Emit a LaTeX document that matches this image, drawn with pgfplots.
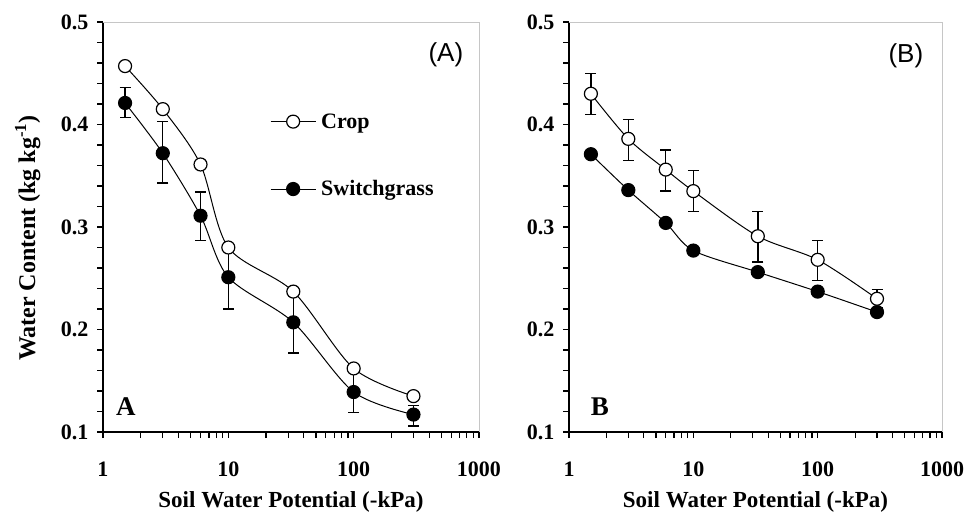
\documentclass[border=0pt]{standalone}
\usepackage{pgfplots}
\pgfplotsset{compat=1.18}
\usepackage{pgfplotstable}
\usepackage{fontspec}
\setmainfont{Liberation Serif}
\newfontfamily\sansf{Liberation Sans}

\pgfplotsset{legend image code/.code={\draw[mark repeat=2,mark phase=2,#1] plot coordinates {(0pt,0pt) (22.5pt,0pt) (45pt,0pt)};}}

\pgfplotstableread{
x ep em y
1.5 0.015 0.014 0.421
3 0.031 0.029 0.372
6 0.023 0.024 0.311
10 0.026 0.031 0.251
33 0.030 0.030 0.207
100 0.020 0.020 0.139
300 0.009 0.011 0.117
}\swA
\pgfplotstableread{
x y
1.5 0.457
3 0.415
6 0.361
10 0.280
33 0.237
100 0.162
300 0.135
}\crA
\pgfplotstableread{
x y ep em
1.5 0.430 0.020 0.020
3 0.386 0.019 0.021
6 0.356 0.019 0.021
10 0.335 0.020 0.020
33 0.291 0.024 0.025
100 0.268 0.019 0.020
300 0.230 0.009 0.009
}\crB
\pgfplotstableread{
x y
1.5 0.371
3 0.336
6 0.304
10 0.277
33 0.256
100 0.237
300 0.217
}\swB

\begin{document}
\begin{tikzpicture}
\useasboundingbox (-103pt,-85pt) rectangle (863pt,432pt);
\begin{axis}[scale only axis, width=376pt, height=410pt,
  xmode=log, xmin=1, xmax=1000, ymin=0.1, ymax=0.5,
  axis x line*=bottom, axis y line*=left,
  axis line style={line width=1.2pt,-},
  xtick={1,10,100,1000}, xticklabels={1,10,100,1000},
  minor xtick={2,3,4,5,6,7,8,9,20,30,40,50,60,70,80,90,200,300,400,500,600,700,800,900},
  ytick={0.1,0.2,0.3,0.4,0.5}, yticklabels={0.1,0.2,0.3,0.4,0.5},
  minor ytick={0.12,0.14,0.16,0.18,0.22,0.24,0.26,0.28,0.32,0.34,0.36,0.38,0.42,0.44,0.46,0.48},
  tick align=outside, major tick length=6pt, minor tick length=6pt,
  tick style={line width=1.2pt, black},
  ticklabel style={font=\fontsize{22}{22}\selectfont\bfseries},
  xticklabel style={yshift=-20pt},
  yticklabel style={xshift=-5pt},
  label style={font=\fontsize{23}{23}\selectfont\bfseries},
  xlabel={Soil Water Potential (-kPa)},
  xlabel style={at={(axis description cs:0.5,-0.17)}, anchor=center},
  clip=false,
  ylabel={Water Content (kg kg\textsuperscript{-1})},
  ylabel style={font=\fontsize{24}{24}\selectfont\bfseries, at={(axis description cs:-0.20,0.473)}, anchor=center},
  legend style={at={(axis description cs:0.444,0.782)}, anchor=north west, draw=none, fill=none,
    inner sep=0pt, row sep=47pt, font=\fontsize{22}{22}\selectfont\bfseries,
    nodes={inner xsep=5pt}},
  legend cell align=left, reverse legend,
]
\addplot[black, line width=1pt, smooth, tension=0.5, mark=*, mark size=6.5pt,
   mark options={fill=black, line width=1.2pt, solid},
   error bars/.cd, y dir=both, y explicit,
   error bar style={line width=1.4pt},
   error mark options={rotate=90, line width=1.4pt, mark size=5.5pt}]
  table[x=x, y=y, y error plus=ep, y error minus=em] {\swA};
\addlegendentry{Switchgrass}
\addplot[black, line width=1pt, smooth, tension=0.5, mark=*, mark size=6.5pt,
   mark options={fill=white, line width=1.2pt, solid}]
  table[x=x, y=y] {\crA};
\addlegendentry{Crop}
\draw[gray!45, line width=0.6pt] (rel axis cs:0,1) -- (rel axis cs:1,1) -- (rel axis cs:1,0);
\node[font=\sansf\fontsize{26}{26}\selectfont] at (rel axis cs:0.912,0.92) {(A)};
\node[font=\fontsize{27}{27}\selectfont\bfseries] at (rel axis cs:0.061,0.061) {A};
\end{axis}
\begin{axis}[scale only axis, width=373pt, height=410pt, at={(466pt,0pt)},
  xmode=log, xmin=1, xmax=1000, ymin=0.1, ymax=0.5,
  axis x line*=bottom, axis y line*=left,
  axis line style={line width=1.2pt,-},
  xtick={1,10,100,1000}, xticklabels={1,10,100,1000},
  minor xtick={2,3,4,5,6,7,8,9,20,30,40,50,60,70,80,90,200,300,400,500,600,700,800,900},
  ytick={0.1,0.2,0.3,0.4,0.5}, yticklabels={0.1,0.2,0.3,0.4,0.5},
  minor ytick={0.12,0.14,0.16,0.18,0.22,0.24,0.26,0.28,0.32,0.34,0.36,0.38,0.42,0.44,0.46,0.48},
  tick align=outside, major tick length=6pt, minor tick length=6pt,
  tick style={line width=1.2pt, black},
  ticklabel style={font=\fontsize{22}{22}\selectfont\bfseries},
  xticklabel style={yshift=-20pt},
  yticklabel style={xshift=-5pt},
  label style={font=\fontsize{23}{23}\selectfont\bfseries},
  xlabel={Soil Water Potential (-kPa)},
  xlabel style={at={(axis description cs:0.5,-0.17)}, anchor=center},
  clip=false,
]
\addplot[black, line width=1pt, smooth, tension=0.5, mark=*, mark size=6.5pt,
   mark options={fill=black, line width=1.2pt, solid}]
  table[x=x, y=y] {\swB};
\addplot[black, line width=1pt, smooth, tension=0.5, mark=*, mark size=6.5pt,
   mark options={fill=white, line width=1.2pt, solid},
   error bars/.cd, y dir=both, y explicit,
   error bar style={line width=1.4pt},
   error mark options={rotate=90, line width=1.4pt, mark size=5.5pt}]
  table[x=x, y=y, y error plus=ep, y error minus=em] {\crB};
\draw[gray!45, line width=0.6pt] (rel axis cs:0,1) -- (rel axis cs:1,1) -- (rel axis cs:1,0);
\node[font=\sansf\fontsize{26}{26}\selectfont] at (rel axis cs:0.903,0.917) {(B)};
\node[font=\fontsize{27}{27}\selectfont\bfseries] at (rel axis cs:0.083,0.061) {B};
\end{axis}
\end{tikzpicture}
\end{document}
